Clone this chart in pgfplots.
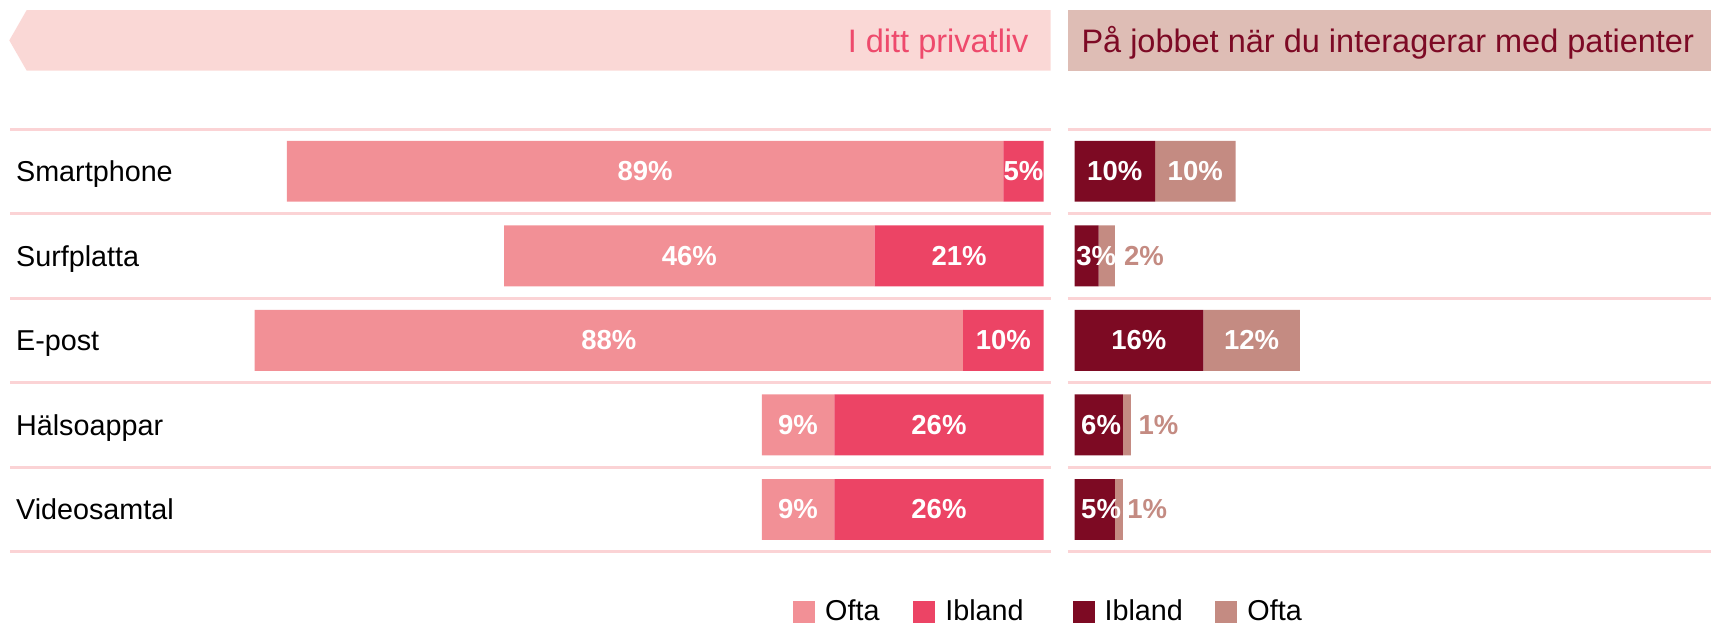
\documentclass[border=0pt]{standalone}
\usepackage{fontspec}
\setmainfont{Liberation Sans}
\usepackage{pgfplots}
\pgfplotsset{compat=1.18}
\definecolor{oftaA}{HTML}{F29096}
\definecolor{iblandA}{HTML}{EC4465}
\definecolor{iblandB}{HTML}{7D0A23}
\definecolor{oftaB}{HTML}{C48B82}
\definecolor{hdrL}{HTML}{FAD8D6}
\definecolor{hdrLtext}{HTML}{EE4A6C}
\definecolor{hdrR}{HTML}{DEBDB5}
\definecolor{hdrRtext}{HTML}{7D0A25}
\definecolor{sep}{HTML}{FBD3D5}
\pgfplotsset{
  panel/.style={
    scale only axis, height=169.1pt, anchor=north west,
    xbar stacked, bar width=0.72,
    ymin=-0.5, ymax=4.5, y dir=reverse,
    ytick={-0.5,0.5,1.5,2.5,3.5,4.5}, yticklabels={}, ymajorgrids,
    major grid style={draw=sep, line width=1.2pt},
    xtick=\empty, major tick length=0pt,
    axis line style={draw=none},
    clip=false,
  },
}
\tikzset{
  lab/.style={text=white, inner sep=0pt, font=\bfseries\fontsize{11}{13}\selectfont},
  outlab/.style={text=oftaB, anchor=west, inner sep=0pt, font=\bfseries\fontsize{11}{13}\selectfont},
  cat/.style={anchor=base west, inner sep=0pt, yshift=-4.1pt, font=\fontsize{11.5}{13}\selectfont},
}
\begin{document}
\begin{tikzpicture}
\path[use as bounding box] (0,0) rectangle (684.4pt,-249.2pt);
\begin{scope}[x=0.4pt,y=-0.4pt]
  \fill[hdrL] (9.3,40.4) -- (26.7,10) -- (1050.7,10) -- (1050.7,70.7) -- (26.7,70.7) -- cycle;
  \fill[hdrR] (1068,10) rectangle (1711,70.7);
  \node[anchor=base east, inner sep=0pt, text=hdrLtext, font=\fontsize{13}{15}\selectfont] at (1029,52.5) {I ditt privatliv};
  \node[anchor=base west, inner sep=0pt, text=hdrRtext, font=\fontsize{13}{15}\selectfont] at (1081,52.5) {På jobbet när du interagerar med patienter};
\end{scope}

% Left panel: private life
\begin{axis}[panel, at={(10*0.4pt,-129*0.4pt)}, width=416.3pt,
  x dir=reverse, xmin=-0.89, xmax=128.4]
  \addplot[fill=iblandA, draw=none] coordinates {(5,0) (21,1) (10,2) (26,3) (26,4)};
  \addplot[fill=oftaA, draw=none] coordinates {(89,0) (46,1) (88,2) (9,3) (9,4)};
  \coordinate (L1) at (axis cs:2.5,0);
  \coordinate (L2) at (axis cs:49.5,0);
  \coordinate (L3) at (axis cs:10.5,1);
  \coordinate (L4) at (axis cs:44,1);
  \coordinate (L5) at (axis cs:5,2);
  \coordinate (L6) at (axis cs:54,2);
  \coordinate (L7) at (axis cs:13,3);
  \coordinate (L8) at (axis cs:30.5,3);
  \coordinate (L9) at (axis cs:13,4);
  \coordinate (L10) at (axis cs:30.5,4);
  \node[cat] at (axis cs:127.7,0) {Smartphone};
  \node[cat] at (axis cs:127.7,1) {Surfplatta};
  \node[cat] at (axis cs:127.7,2) {E-post};
  \node[cat] at (axis cs:127.7,3) {Hälsoappar};
  \node[cat] at (axis cs:127.7,4) {Videosamtal};
\end{axis}
\node[lab] at (L1) {5\%};
\node[lab] at (L2) {89\%};
\node[lab] at (L3) {21\%};
\node[lab] at (L4) {46\%};
\node[lab] at (L5) {10\%};
\node[lab] at (L6) {88\%};
\node[lab] at (L7) {26\%};
\node[lab] at (L8) {9\%};
\node[lab] at (L9) {26\%};
\node[lab] at (L10) {9\%};

% Right panel: at work
\begin{axis}[panel, at={(1068*0.4pt,-129*0.4pt)}, width=257.2pt,
  xmin=-0.81, xmax=79.07,
  legend columns=4,
  legend image code/.code={\fill[#1] (0pt,-4.4pt) rectangle (8.8pt,4.4pt);},
  legend style={at={(axis description cs:-0.028,-0.142)}, anchor=center,
    draw=none, fill=none, inner sep=0pt,
    font=\fontsize{11.5}{13}\selectfont,
    /tikz/column 1/.style={column sep=2pt},
    /tikz/column 2/.style={column sep=11.5pt},
    /tikz/column 3/.style={column sep=2pt},
    /tikz/column 4/.style={column sep=17.6pt},
    /tikz/column 5/.style={column sep=2pt},
    /tikz/column 6/.style={column sep=11pt},
    /tikz/column 7/.style={column sep=2pt}}]
  \addlegendimage{fill=oftaA, draw=none}
  \addlegendimage{fill=iblandA, draw=none}
  \addlegendimage{fill=iblandB, draw=none}
  \addlegendimage{fill=oftaB, draw=none}
  \legend{Ofta, Ibland, Ibland, Ofta}
  \addplot[fill=iblandB, draw=none] coordinates {(10,0) (3,1) (16,2) (6,3) (5,4)};
  \addplot[fill=oftaB, draw=none] coordinates {(10,0) (2,1) (12,2) (1,3) (1,4)};
  \coordinate (R1) at (axis cs:5,0);
  \coordinate (R2) at (axis cs:15,0);
  \coordinate (R3) at (axis cs:2.7,1);
  \coordinate (R4) at (axis cs:6.1,1);
  \coordinate (R5) at (axis cs:8,2);
  \coordinate (R6) at (axis cs:22,2);
  \coordinate (R7) at (axis cs:3.3,3);
  \coordinate (R8) at (axis cs:7.9,3);
  \coordinate (R9) at (axis cs:3.3,4);
  \coordinate (R10) at (axis cs:6.5,4);
\end{axis}
\node[lab] at (R1) {10\%};
\node[lab] at (R2) {10\%};
\node[lab] at (R3) {3\%};
\node[outlab] at (R4) {2\%};
\node[lab] at (R5) {16\%};
\node[lab] at (R6) {12\%};
\node[lab] at (R7) {6\%};
\node[outlab] at (R8) {1\%};
\node[lab] at (R9) {5\%};
\node[outlab] at (R10) {1\%};
\end{tikzpicture}
\end{document}
